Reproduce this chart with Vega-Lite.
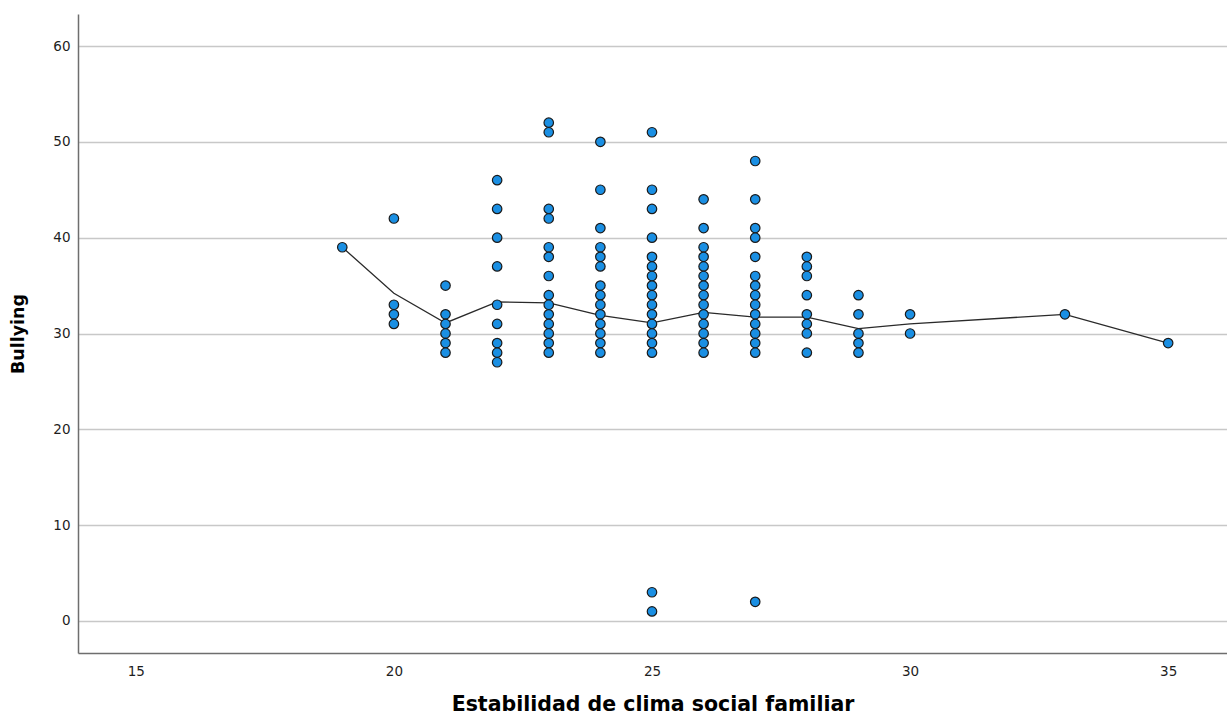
{
  "$schema": "https://vega.github.io/schema/vega-lite/v6.json",
  "width": 1149,
  "height": 639,
  "autosize": {"type": "none"},
  "padding": {"left": 78, "top": 14, "right": 0, "bottom": 74},
  "background": "white",
  "config": {
    "view": {"stroke": null},
    "font": "DejaVu Sans"
  },
  "datasets": {
    "pts": [
      {"x": 19, "y": 39},
      {"x": 20, "y": 42}, {"x": 20, "y": 33}, {"x": 20, "y": 32}, {"x": 20, "y": 31},
      {"x": 21, "y": 35}, {"x": 21, "y": 32}, {"x": 21, "y": 31}, {"x": 21, "y": 30}, {"x": 21, "y": 29}, {"x": 21, "y": 28},
      {"x": 22, "y": 46}, {"x": 22, "y": 43}, {"x": 22, "y": 40}, {"x": 22, "y": 37}, {"x": 22, "y": 33}, {"x": 22, "y": 31}, {"x": 22, "y": 29}, {"x": 22, "y": 28}, {"x": 22, "y": 27},
      {"x": 23, "y": 52}, {"x": 23, "y": 51}, {"x": 23, "y": 43}, {"x": 23, "y": 42}, {"x": 23, "y": 39}, {"x": 23, "y": 38}, {"x": 23, "y": 36}, {"x": 23, "y": 34}, {"x": 23, "y": 33}, {"x": 23, "y": 32}, {"x": 23, "y": 31}, {"x": 23, "y": 30}, {"x": 23, "y": 29}, {"x": 23, "y": 28},
      {"x": 24, "y": 50}, {"x": 24, "y": 45}, {"x": 24, "y": 41}, {"x": 24, "y": 39}, {"x": 24, "y": 38}, {"x": 24, "y": 37}, {"x": 24, "y": 35}, {"x": 24, "y": 34}, {"x": 24, "y": 33}, {"x": 24, "y": 32}, {"x": 24, "y": 31}, {"x": 24, "y": 30}, {"x": 24, "y": 29}, {"x": 24, "y": 28},
      {"x": 25, "y": 51}, {"x": 25, "y": 45}, {"x": 25, "y": 43}, {"x": 25, "y": 40}, {"x": 25, "y": 38}, {"x": 25, "y": 37}, {"x": 25, "y": 36}, {"x": 25, "y": 35}, {"x": 25, "y": 34}, {"x": 25, "y": 33}, {"x": 25, "y": 32}, {"x": 25, "y": 31}, {"x": 25, "y": 30}, {"x": 25, "y": 29}, {"x": 25, "y": 28}, {"x": 25, "y": 3}, {"x": 25, "y": 1},
      {"x": 26, "y": 44}, {"x": 26, "y": 41}, {"x": 26, "y": 39}, {"x": 26, "y": 38}, {"x": 26, "y": 37}, {"x": 26, "y": 36}, {"x": 26, "y": 35}, {"x": 26, "y": 34}, {"x": 26, "y": 33}, {"x": 26, "y": 32}, {"x": 26, "y": 31}, {"x": 26, "y": 30}, {"x": 26, "y": 29}, {"x": 26, "y": 28},
      {"x": 27, "y": 48}, {"x": 27, "y": 44}, {"x": 27, "y": 41}, {"x": 27, "y": 40}, {"x": 27, "y": 38}, {"x": 27, "y": 36}, {"x": 27, "y": 35}, {"x": 27, "y": 34}, {"x": 27, "y": 33}, {"x": 27, "y": 32}, {"x": 27, "y": 31}, {"x": 27, "y": 30}, {"x": 27, "y": 29}, {"x": 27, "y": 28}, {"x": 27, "y": 2},
      {"x": 28, "y": 38}, {"x": 28, "y": 37}, {"x": 28, "y": 36}, {"x": 28, "y": 34}, {"x": 28, "y": 32}, {"x": 28, "y": 31}, {"x": 28, "y": 30}, {"x": 28, "y": 28},
      {"x": 29, "y": 34}, {"x": 29, "y": 32}, {"x": 29, "y": 30}, {"x": 29, "y": 29}, {"x": 29, "y": 28},
      {"x": 30, "y": 32}, {"x": 30, "y": 30},
      {"x": 33, "y": 32},
      {"x": 35, "y": 29}
    ],
    "fit": [
      {"x": 19, "y": 39}, {"x": 20, "y": 34.2}, {"x": 21, "y": 31.1}, {"x": 22, "y": 33.3},
      {"x": 23, "y": 33.2}, {"x": 24, "y": 31.9}, {"x": 25, "y": 31.1}, {"x": 26, "y": 32.2},
      {"x": 27, "y": 31.7}, {"x": 28, "y": 31.7}, {"x": 29, "y": 30.5}, {"x": 30, "y": 31.0},
      {"x": 33, "y": 32}, {"x": 35, "y": 29}
    ]
  },
  "encoding": {
    "x": {
      "field": "x", "type": "quantitative",
      "scale": {"domain": [13.88, 36.14], "nice": false, "zero": false},
      "axis": {
        "title": "Estabilidad de clima social familiar",
        "values": [15, 20, 25, 30, 35],
        "grid": false, "ticks": false,
        "domainColor": "#6e6e6e", "domainWidth": 1.5,
        "labelFont": "DejaVu Sans", "labelFontSize": 13.5, "labelColor": "#1e1e1e",
        "labelPadding": 11,
        "titleFont": "DejaVu Sans", "titleFontSize": 20.5, "titleFontWeight": "bold",
        "titleColor": "#000000", "titlePadding": 17
      }
    },
    "y": {
      "field": "y", "type": "quantitative",
      "scale": {"domain": [-3.34, 63.34], "nice": false, "zero": false},
      "axis": {
        "title": "Bullying",
        "values": [0, 10, 20, 30, 40, 50, 60],
        "grid": true, "gridColor": "#c8c8c8", "gridWidth": 1.5,
        "ticks": false,
        "domainColor": "#6e6e6e", "domainWidth": 1.5,
        "labelFont": "DejaVu Sans", "labelFontSize": 13.5, "labelColor": "#1e1e1e",
        "labelPadding": 8,
        "titleFont": "DejaVu Sans", "titleFontSize": 17.5, "titleFontWeight": "bold",
        "titleColor": "#000000", "titlePadding": 25
      }
    }
  },
  "layer": [
    {
      "data": {"name": "fit"},
      "mark": {"type": "line", "color": "#2a2a2a", "strokeWidth": 1.3}
    },
    {
      "data": {"name": "pts"},
      "mark": {"type": "point", "shape": "circle", "filled": true, "size": 90, "fill": "#1a8fe3", "stroke": "#1a1a1a", "strokeWidth": 1.2, "opacity": 1}
    }
  ]
}
